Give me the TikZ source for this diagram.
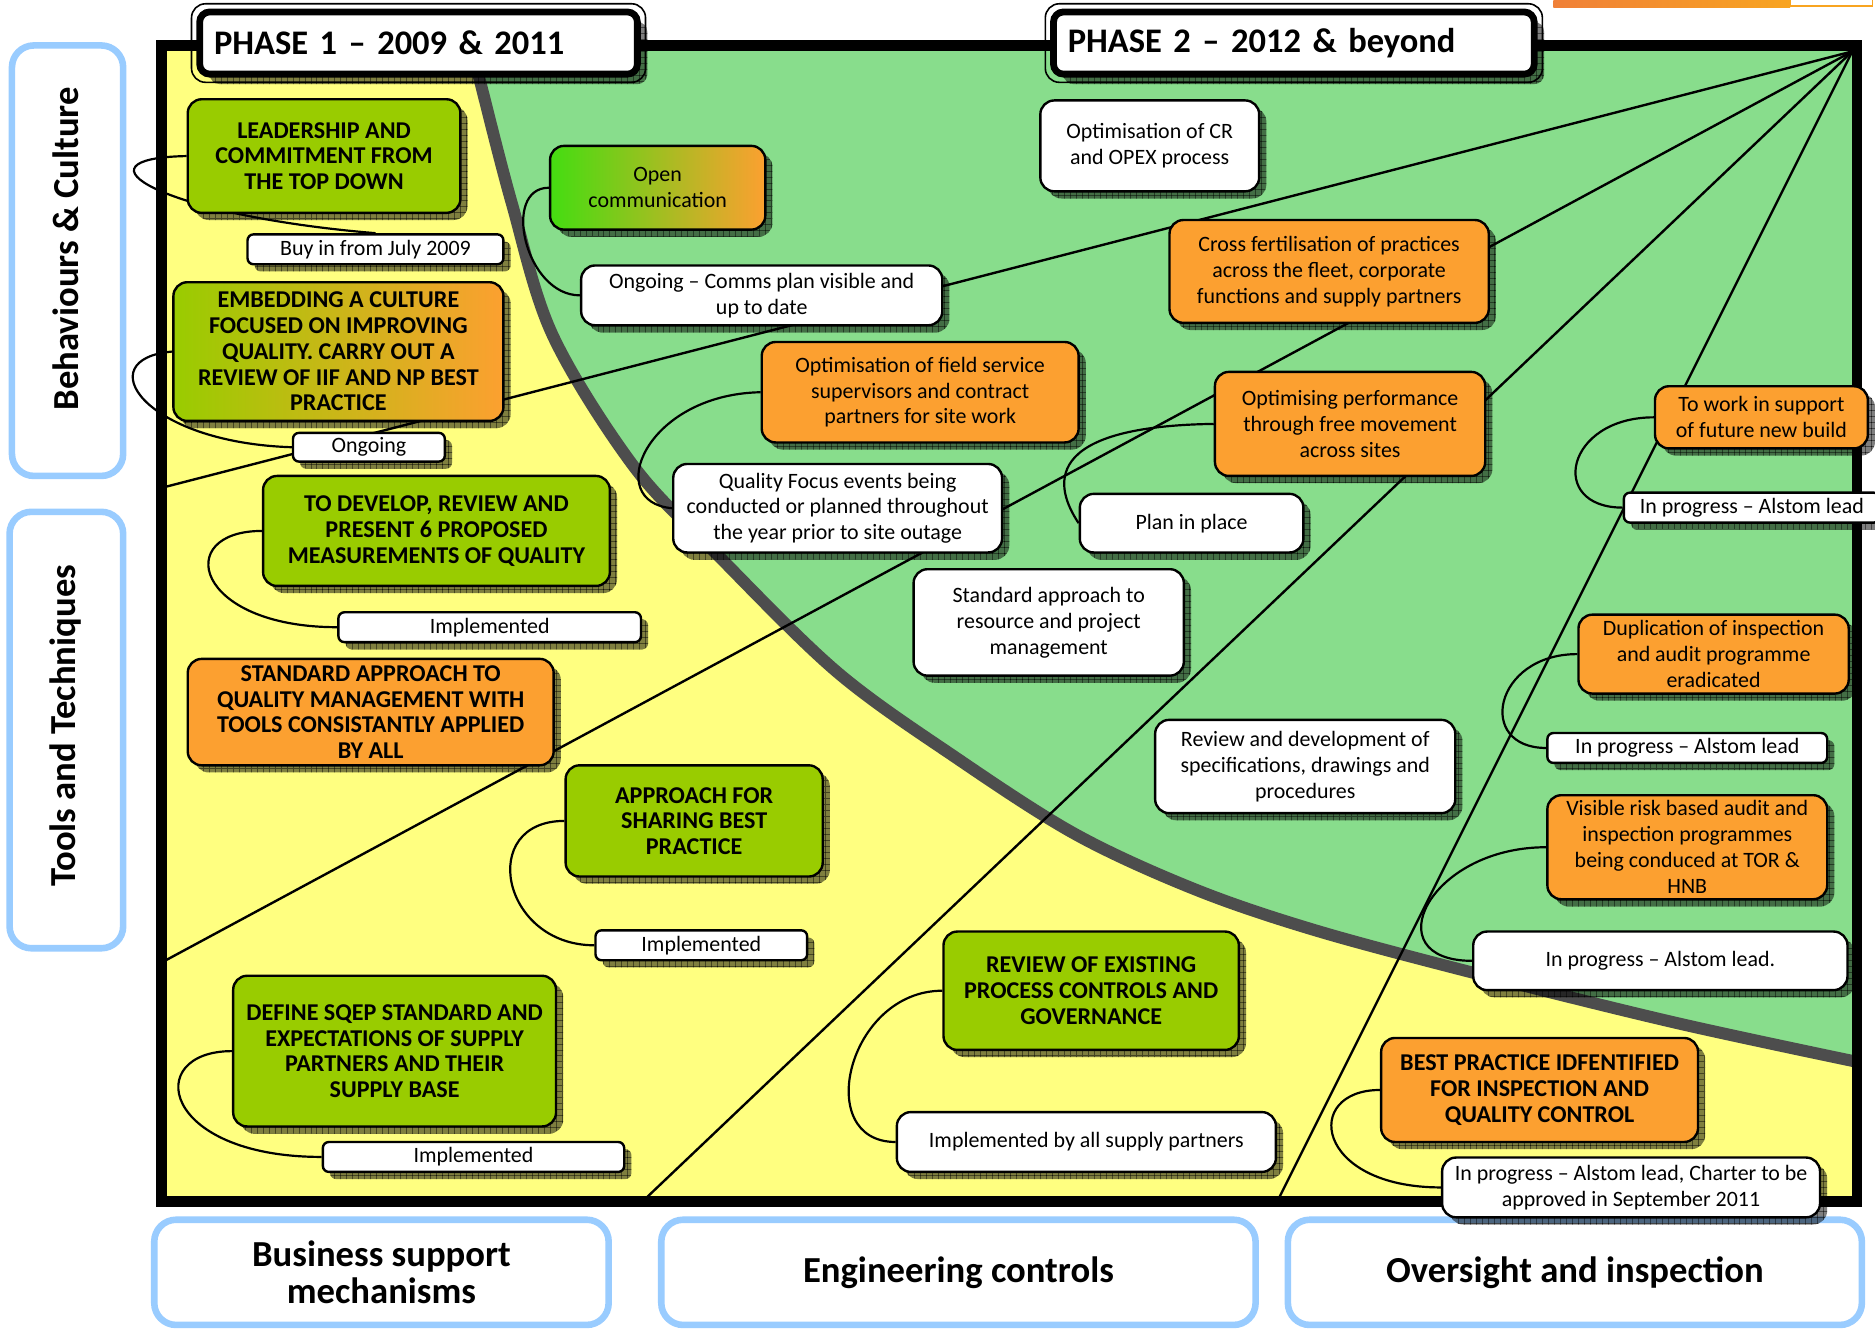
\documentclass[tikz,border=0pt]{standalone}
\usepackage{fontspec}
\setmainfont{Carlito}
\usetikzlibrary{shadows,patterns}
\definecolor{ybg}{RGB}{255,255,128}
\definecolor{gbg}{RGB}{136,221,140}
\definecolor{gbox}{RGB}{153,204,0}
\definecolor{obox}{RGB}{252,160,48}
\definecolor{arcgray}{RGB}{77,77,77}
\definecolor{sideblue}{RGB}{153,204,255}
\definecolor{brightgreen}{RGB}{68,221,17}
\definecolor{barA}{RGB}{240,128,56}
\definecolor{barB}{RGB}{248,164,32}
\newcommand{\dgBody}{\fontsize{11pt}{13pt}\selectfont}
\newcommand{\dgCaps}{\fontsize{12.1pt}{12.9pt}\selectfont\bfseries}
\newcommand{\dgHead}{\fontsize{17.3pt}{20pt}\selectfont\bfseries}
\newcommand{\dgSide}{\fontsize{18.4pt}{18.6pt}\selectfont\bfseries}
\pgfdeclarelayer{bg}
\pgfdeclarelayer{conn}
\pgfsetlayers{bg,conn,main}
\tikzset{
  sz/.style 2 args={minimum width={#1*0.6pt}, minimum height={#2*0.6pt}},
  shad/.style={drop shadow={shadow xshift=3.6pt, shadow yshift=-3.6pt, opacity=0.5, fill=black},
               general shadow={shadow xshift=3.6pt, shadow yshift=-3.6pt, opacity=0.45, pattern=grid, pattern color=black}},
  capsbox/.style={draw=black, line width=1.2pt, rounded corners=7pt, inner sep=0pt, align=center, shad, font=\dgCaps},
  txtbox/.style={draw=black, line width=1.2pt, rounded corners=7pt, inner sep=0pt, align=center, shad, font=\dgBody},
  greenbox/.style={capsbox, fill=gbox},
  orangecaps/.style={capsbox, fill=obox},
  orangebox/.style={txtbox, fill=obox},
  whitebox/.style={txtbox, fill=white},
  tag/.style={txtbox, fill=white, rounded corners=3pt},
  loopline/.style={draw=black, line width=1.1pt},
  ray/.style={draw=black, line width=1.2pt},
  header/.style={draw=black, line width=3.4pt, fill=white, rounded corners=5pt, inner sep=0pt, align=left, font=\dgHead,
     drop shadow={shadow xshift=5pt, shadow yshift=-5pt, opacity=0.5, fill=black},
     general shadow={shadow xshift=5pt, shadow yshift=-5pt, opacity=0.45, pattern=grid, pattern color=black}},
  headerrim/.style={draw=black, line width=0.8pt, rounded corners=7pt},
  sidebox/.style={draw=sideblue, line width=3.3pt, fill=white, rounded corners=11pt, inner sep=0pt, align=center, font=\dgSide},
  sidetext/.style={font=\dgSide, inner sep=0pt, align=center},
}
\begin{document}
\begin{tikzpicture}[x=0.6pt, y=-0.6pt]
\useasboundingbox (0,0) rectangle (1568,1113);
\begin{pgfonlayer}{bg}
  \fill[white] (0,0) rectangle (1568,1113);
  \shade[left color=barA, right color=barB] (1299,-2) rectangle (1497,6);
  \draw[barB, line width=0.8pt, fill=white] (1497,-4) rectangle (1566,5);
  \fill[ybg] (135,38) rectangle (1553,1005);
  \fill[gbg] (394,38) -- plot[smooth, tension=0.55] coordinates {(394,38) (402,70) (428,170) (462,280) (530,390) (600,464) (700,562) (800,634) (900,698) (1000,744) (1100,778) (1234,814) (1400,855) (1553,888)} -- (1553,38) -- cycle;
  \draw[arcgray, line width=6pt] plot[smooth, tension=0.55] coordinates {(394,38) (402,70) (428,170) (462,280) (530,390) (600,464) (700,562) (800,634) (900,698) (1000,744) (1100,778) (1234,814) (1400,855) (1553,888)};
  \coordinate (apex) at (1549,43);
  \coordinate (r1) at (135,408);
  \coordinate (r2) at (135,805);
  \coordinate (r3) at (537,1005);
  \coordinate (r4) at (1068,1005);
  \draw[ray] (apex) -- (r1);
  \draw[ray] (apex) -- (r2);
  \draw[ray] (apex) -- (r3);
  \draw[ray] (apex) -- (r4);
  \draw[black, line width=5.4pt] (135,38) rectangle (1553,1005);
\end{pgfonlayer}

% side and bottom category boxes
\node[sidebox, sz={93}{360}] (behbox) at (56.5,218) {};
\node[sidetext, rotate=90] (behtxt) at (55,208) {Behaviours \& Culture};
\node[sidebox, sz={95}{365}] (toolbox) at (55.5,610.5) {};
\node[sidetext, rotate=90] (tooltxt) at (55,607) {Tools and Techniques};
\node[sidebox, sz={380}{88}] (bsm) at (319,1064) {\raisebox{-3pt}{\parbox{200pt}{\centering Business support\\mechanisms}}};
\node[sidebox, sz={497}{88}] (eng) at (801.5,1064) {Engineering controls};
\node[sidebox, sz={480}{88}] (ovs) at (1317,1064) {Oversight and inspection};

% phase 1 column
\node[greenbox, sz={228}{95}] (lead) at (271,130.5) {LEADERSHIP AND\\COMMITMENT FROM\\THE TOP DOWN};
\node[tag, sz={214}{25}] (buyin) at (314,208.5) {Buy in from July 2009};
\node[capsbox, shading=axis, left color=gbox, right color=obox, sz={276}{116}] (embed) at (283,294) {EMBEDDING A CULTURE\\FOCUSED ON IMPROVING\\QUALITY. CARRY OUT A\\REVIEW OF IIF AND NP BEST\\PRACTICE};
\node[tag, sz={127}{24}] (ongoing1) at (308.5,374) {Ongoing};
\node[greenbox, sz={290}{92}] (develop) at (365,444) {TO DEVELOP, REVIEW AND\\PRESENT 6 PROPOSED\\MEASUREMENTS OF QUALITY};
\node[tag, sz={253}{25}] (impl1) at (409.5,524.5) {Implemented};
\node[orangecaps, sz={306}{89}] (stdapp) at (310,595.5) {STANDARD APPROACH TO\\QUALITY MANAGEMENT WITH\\TOOLS CONSISTANTLY APPLIED\\BY ALL};
\node[greenbox, sz={215}{93}] (sharing) at (580.5,686.5) {APPROACH FOR\\SHARING BEST\\PRACTICE};
\node[tag, sz={177}{25}] (impl2) at (586.5,790.5) {Implemented};
\node[greenbox, sz={270}{126}] (sqep) at (330,879) {DEFINE SQEP STANDARD AND\\EXPECTATIONS OF SUPPLY\\PARTNERS AND THEIR\\SUPPLY BASE};
\node[tag, sz={252}{25}] (impl3) at (396,967.5) {Implemented};
\node[greenbox, sz={247}{99}] (review) at (912.5,828.5) {REVIEW OF EXISTING\\PROCESS CONTROLS AND\\GOVERNANCE};
\node[whitebox, sz={317}{50}] (implall) at (908.5,955) {Implemented by all supply partners};
\node[orangecaps, sz={265}{87}] (bestpr) at (1287.5,911.5) {BEST PRACTICE IDFENTIFIED\\FOR INSPECTION AND\\QUALITY CONTROL};
\node[whitebox, sz={316}{50}] (charter) at (1364,993) {In progress -- Alstom lead, Charter to be\\approved in September 2011};

% phase 2 column
\node[txtbox, shading=axis, left color=brightgreen, right color=obox, sz={180}{70}] (opencomm) at (550,157) {Open\\communication};
\node[whitebox, sz={302}{50}] (comms) at (637,247) {Ongoing -- Comms plan visible and\\up to date};
\node[whitebox, sz={183}{76}] (cropex) at (961.5,122) {Optimisation of CR\\and OPEX process};
\node[orangebox, sz={267}{86}] (crossfert) at (1111.5,227) {Cross fertilisation of practices\\across the fleet, corporate\\functions and supply partners};
\node[orangebox, sz={265}{84}] (fieldsvc) at (769.5,328) {Optimisation of field service\\supervisors and contract\\partners for site work};
\node[whitebox, sz={275}{74}] (qfocus) at (700.5,425) {Quality Focus events being\\conducted or planned throughout\\the year prior to site outage};
\node[orangebox, sz={226}{87}] (optperf) at (1129,354.5) {Optimising performance\\through free movement\\across sites};
\node[whitebox, sz={187}{49}] (plan) at (996.5,437.5) {Plan in place};
\node[whitebox, sz={226}{89}] (stdres) at (877,520.5) {Standard approach to\\resource and project\\management};
\node[orangebox, sz={178}{52}] (newbuild) at (1473,349) {To work in support\\of future new build};
\node[tag, sz={214}{25}] (prog1) at (1465,424.5) {In progress -- Alstom lead};
\node[orangebox, sz={226}{66}] (dup) at (1433,547) {Duplication of inspection\\and audit programme\\eradicated};
\node[tag, sz={234}{25}] (prog2) at (1411,625.5) {In progress -- Alstom lead};
\node[whitebox, sz={251}{78}] (reviewspec) at (1091.5,641) {Review and development of\\specifications, drawings and\\procedures};
\node[orangebox, sz={234}{87}] (visible) at (1411,708.5) {Visible risk based audit and\\inspection programmes\\being conduced at TOR \&\\HNB};
\node[whitebox, sz={313}{49}] (prog3) at (1388.5,803.5) {In progress -- Alstom lead.};

% phase headers
\node[header, sz={366}{52}, text width={342*0.6pt}] (h1) at (350,36) {PHASE 1 -- 2009 \& 2011};
\draw[headerrim] ([xshift=-2.4pt,yshift=2.4pt]h1.north west) rectangle ([xshift=2.4pt,yshift=-2.4pt]h1.south east);
\node[header, sz={402}{52}, text width={378*0.6pt}] (h2) at (1082,36) {PHASE 2 -- 2012 \& beyond};
\draw[headerrim] ([xshift=-2.4pt,yshift=2.4pt]h2.north west) rectangle ([xshift=2.4pt,yshift=-2.4pt]h2.south east);

% status connectors
\begin{pgfonlayer}{conn}
  \draw[loopline] (lead.west) .. controls +(-100,2) and +(-180,-15) .. (buyin.north);
  \draw[loopline] (embed.west) .. controls +(-70,6) and +(-125,-4) .. (ongoing1.west);
  \draw[loopline] (develop.west) .. controls +(-75,0) and +(-120,0) .. (impl1.west);
  \draw[loopline] (sharing.west) .. controls +(-73,0) and +(-78,0) .. (impl2.west);
  \draw[loopline] (sqep.west) .. controls +(-75,0) and +(-135,0) .. (impl3.west);
  \draw[loopline] (review.west) .. controls +(-79,0) and +(-70,0) .. (implall.west);
  \draw[loopline] (bestpr.west) .. controls +(-65,0) and +(-106,0) .. (charter.west);
  \draw[loopline] (opencomm.west) .. controls +(-40,0) and +(-46,0) .. (comms.west);
  \draw[loopline] (fieldsvc.west) .. controls +(-97,2) and +(-58,-5) .. (qfocus.west);
  \draw[loopline] (optperf.west) .. controls +(-146,2) and +(-20,-30) .. (plan.west);
  \draw[loopline] (newbuild.west) .. controls +(-74,0) and +(-63,0) .. (prog1.west);
  \draw[loopline] (dup.west) .. controls +(-70,0) and +(-59,0) .. (prog2.west);
  \draw[loopline] (visible.west) .. controls +(-99,0) and +(-82,0) .. (prog3.west);
\end{pgfonlayer}
\end{tikzpicture}
\end{document}
